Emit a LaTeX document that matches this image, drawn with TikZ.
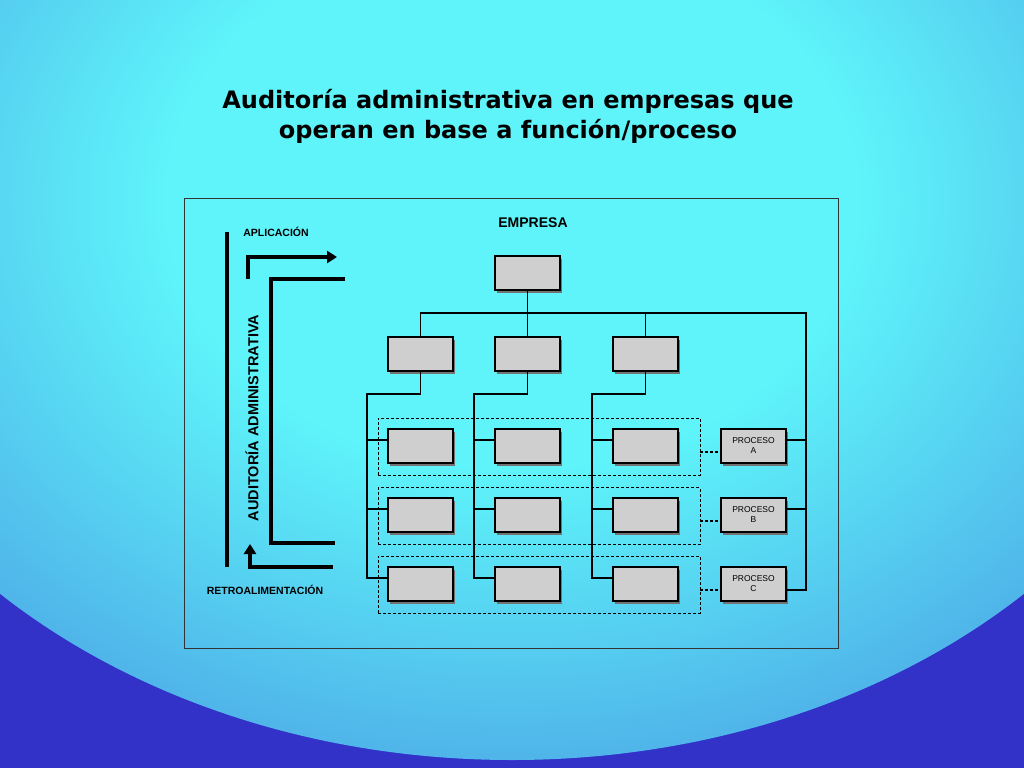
\documentclass[tikz,border=0pt]{standalone}
\usepackage{fontspec}
\setmainfont{Liberation Sans}
\newfontfamily\titlefont{DejaVu Sans}
\usetikzlibrary{arrows.meta}
\definecolor{bgblue}{HTML}{3232C8}
\definecolor{bgcyan}{HTML}{5EF4FA}
\definecolor{boxgray}{HTML}{CFCFCF}
\pgfdeclareradialshading{glow}{\pgfpoint{0bp}{0bp}}{color(0bp)=(bgcyan); color(12bp)=(bgcyan); color(30bp)=(bgblue!45!bgcyan); color(45bp)=(bgblue); color(50bp)=(bgblue)}

\begin{document}
\begin{tikzpicture}[
            x = 1pt, y = -1pt,
            > = {Triangle[length=10pt, width=12pt]}, % arrow head style
            thick, % line style
            font=\bfseries\fontsize{10.5}{12}\selectfont
  ]

        \tikzset{
            unit/.style = {draw = black, fill = boxgray, line width = 1.2pt,
                minimum width = 65pt, minimum height = 34pt, inner sep = 0pt},
            group/.style = {draw = black, densely dashed, line width = 0.9pt,
                minimum width = 322pt, minimum height = 57pt, inner sep = 0pt},
            link/.style = {draw = black, line width = 1.2pt},
            heavy/.style = {draw = black, line width = 3.4pt}
        }
        \newcommand{\unitbox}[4][]{%
            \fill[black!55] (#3) ++(-30.5, -14) rectangle ++(65, 34);
            \node[unit, #1] (#2) at (#3) {#4};}

        % background
        \useasboundingbox (0, 0) rectangle (1024, 768);
        \fill[bgblue] (0, 0) rectangle (1024, 768);
        \begin{scope}
            \clip (0, 0) rectangle (1024, 768);
            \shade[shading = glow] (512, 200) ellipse (720 and 560);
        \end{scope}
        \draw[line width = 1pt, black!80] (184, 198) rectangle (838, 648);

        % title
        \node[font = \titlefont\bfseries\fontsize{24}{30}\selectfont, align = center] (title) at (508, 116)
            {Auditoría administrativa en empresas que\\operan en base a función/proceso};

        % labels
        \node (empresa) at (533, 223) {\fontsize{14}{16}\selectfont EMPRESA};
        \node (aplic) at (276, 232) {APLICACIÓN};
        \node (retro) at (265, 590) {RETROALIMENTACIÓN};
        \node[rotate = 90] (audit) at (252, 418) {\fontsize{14.5}{16}\selectfont AUDITORÍA ADMINISTRATIVA};

        % groups
        \node[group] (g1) at (539, 446.5) {};
        \node[group] (g2) at (539, 516) {};
        \node[group] (g3) at (539, 584.5) {};

        % boxes
        \unitbox{top}{527.5, 273}{}
        \unitbox{f1}{420.5, 354}{}
        \unitbox{f2}{527.5, 354}{}
        \unitbox{f3}{645.5, 354}{}
        \foreach \r/\y in {1/446, 2/515, 3/584} {
            \unitbox{r\r1}{420.5, \y}{}
            \unitbox{r\r2}{527.5, \y}{}
            \unitbox{r\r3}{645.5, \y}{}
        }
        \unitbox[align = center, font = \fontsize{8.5}{10}\selectfont]{pa}{753.5, 446}{PROCESO\\A}
        \unitbox[align = center, font = \fontsize{8.5}{10}\selectfont]{pb}{753.5, 515}{PROCESO\\B}
        \unitbox[align = center, font = \fontsize{8.5}{10}\selectfont]{pc}{753.5, 584}{PROCESO\\C}

        % tree
        \coordinate (bus) at (527.5, 313);
        \coordinate (right) at (806, 313);
        \path[link] (top.south) -- (bus);
        \path[link] (f1.north) |- (right) -- (806, 590) -- (pc.east |- 0, 590);
        \path[link] (f2.north) -- (bus);
        \path[link] (f3.north) -- (645.5, 313);
        \path[link] (pa.east |- 0, 440) -- (806, 440);
        \path[link] (pb.east |- 0, 509) -- (806, 509);
        \path[link] (f1.south) |- (367, 394) -- (367, 578) -- (r31.west |- 0, 578);
        \path[link] (f2.south) |- (474, 394) -- (474, 578) -- (r32.west |- 0, 578);
        \path[link] (f3.south) |- (592, 394) -- (592, 578) -- (r33.west |- 0, 578);
        \foreach \x in {367, 474, 592} {
            \path[link] (\x, 440) -- +(21, 0);
            \path[link] (\x, 509) -- +(21, 0);
        }
        \path[link, densely dashed] (g1.east |- 0, 452) -- (pa.west |- 0, 452);
        \path[link, densely dashed] (g2.east |- 0, 521) -- (pb.west |- 0, 521);
        \path[link, densely dashed] (g3.east |- 0, 590) -- (pc.west |- 0, 590);

        % audit arrows
        \path[heavy] (227, 232) -- (227, 567);
        \path[heavy, ->] (248, 279) |- (337, 257);
        \path[heavy] (345, 279) -| (271, 543) -- (335, 543);
        \path[heavy, ->] (333, 567) -| (250, 544);
\end{tikzpicture}
\end{document}
